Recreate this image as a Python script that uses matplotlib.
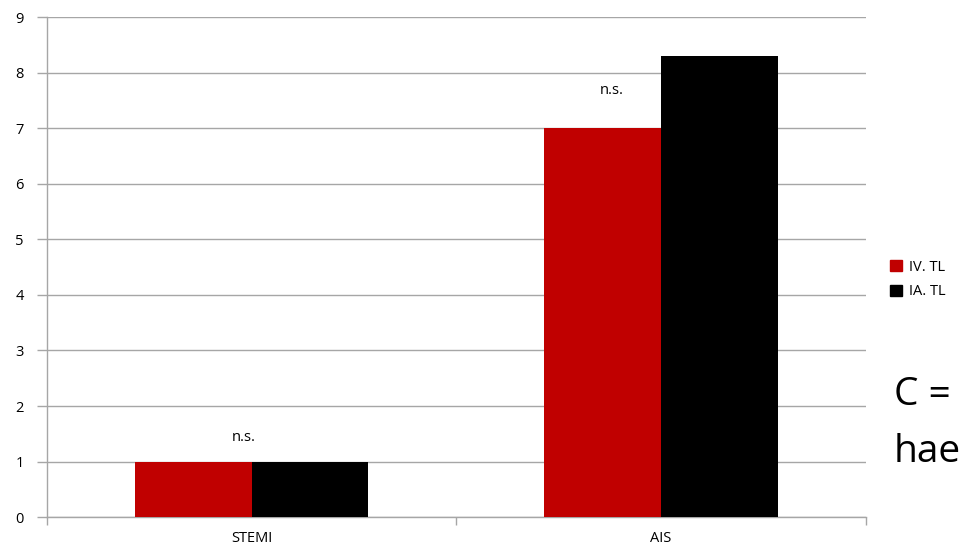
import numpy as np
import matplotlib
matplotlib.use("Agg")
import matplotlib.pyplot as plt
from matplotlib.patches import Patch

# === data ===
categories = ["STEMI", "AIS"]
iv_tl = [1.0, 7.0]
ia_tl = [1.0, 8.3]
series_names = ["IV. TL", "IA. TL"]
sig_labels = ["n.s.", "n.s."]
sig_y = [1.44, 7.67]
sig_dx = [-0.02, -0.12]
side_lines = ["C =", "hae"]

RED = "#C00000"
BLACK = "#000000"
GRID = "#A6A6A6"
BAR_W = 0.285

plt.rcParams["font.family"] = ["Open Sans", "DejaVu Sans"]

fig = plt.figure(figsize=(9.65, 5.49), dpi=100)
ax = fig.add_axes([0.049, 0.058, 0.848, 0.911])

x = np.arange(len(categories))
ax.bar(x - BAR_W / 2, iv_tl, BAR_W, color=RED, zorder=3)
ax.bar(x + BAR_W / 2, ia_tl, BAR_W, color=BLACK, zorder=3)

for xi, lab, yy, dx in zip(x, sig_labels, sig_y, sig_dx):
    ax.text(xi + dx, yy, lab, ha="center", va="center", fontsize=10.5)

ax.set_xlim(-0.5, len(categories) - 0.5)
ax.set_ylim(0, 9)
ax.set_yticks(range(10))
ax.yaxis.grid(True, color=GRID, linewidth=1, zorder=0)
ax.set_axisbelow(True)

# category labels in the middle, tick marks on the boundaries
ax.set_xticks(x)
ax.set_xticklabels(categories, fontsize=10.5)
ax.tick_params(axis="x", length=0, pad=10)
ax.set_xticks(np.arange(-0.5, len(categories)), minor=True)
ax.tick_params(axis="x", which="minor", length=6, color=GRID, width=1)
ax.tick_params(axis="y", length=7, color=GRID, width=1, labelsize=10.5, pad=10)

for side in ["top", "right"]:
    ax.spines[side].set_visible(False)
for side in ["left", "bottom"]:
    ax.spines[side].set_color(GRID)
    ax.spines[side].set_linewidth(1)

handles = [Patch(color=RED), Patch(color=BLACK)]
fig.legend(handles, series_names, loc="center left", bbox_to_anchor=(0.915, 0.491),
           frameon=False, fontsize=10.5, handlelength=0.8, handleheight=0.8,
           handletextpad=0.5, labelspacing=0.65, borderpad=0)

# big annotation on the right, one line per text
for line, yb in zip(side_lines, [0.262, 0.158]):
    fig.text(0.926, yb, line, fontsize=28, ha="left", va="baseline")

fig.savefig("out.png", dpi=100)
